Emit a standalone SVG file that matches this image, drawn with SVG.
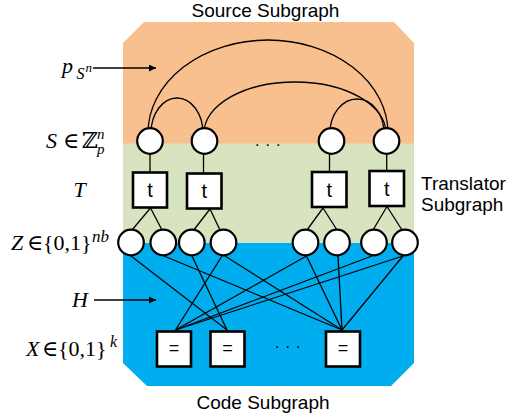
<svg xmlns="http://www.w3.org/2000/svg" width="511" height="419" viewBox="0 0 511 419">
  <style>
    .cap { font-family: "Liberation Sans", Arial, sans-serif; font-size: 19px; fill: #000; }
    .math { font-family: "Liberation Serif", "DejaVu Serif", serif; font-size: 22px; fill: #000; }
    .it { font-style: italic; }
    .var { fill: #fff; stroke: #000; stroke-width: 2.2; }
    .fac { fill: #fff; stroke: #000; stroke-width: 2.6; }
    .lbl { font-family: "Liberation Sans", Arial, sans-serif; fill: #000; text-anchor: middle; }
    .edge { fill: none; stroke: #000; stroke-width: 1.3; }
    .dots { font-family: "Liberation Sans", Arial, sans-serif; font-size: 16px; letter-spacing: 6px; fill: #000; }
  </style>
  <defs>
    <marker id="head" viewBox="0 0 10 10" refX="10" refY="5" markerWidth="8" markerHeight="7" markerUnits="userSpaceOnUse" orient="auto">
      <path d="M0,0 L10,5 L0,10 Z" fill="#000"/>
    </marker>
  </defs>

  <!-- subgraph regions -->
  <path d="M123,43 L144,22 L394,22 L414,43 L414,144 L123,144 Z" fill="#F8BF8F"/>
  <rect x="123" y="143.5" width="291" height="100" fill="#D8E4BF"/>
  <path d="M123,243 L414,243 L414,363 L391,386 L147,386 L123,363 Z" fill="#00AEEF"/>

  <!-- region captions -->
  <text class="cap" x="265.5" y="17" text-anchor="middle">Source Subgraph</text>
  <text class="cap" x="421" y="189.5">Translator</text>
  <text class="cap" x="421" y="210.5">Subgraph</text>
  <text class="cap" x="263" y="409" text-anchor="middle">Code Subgraph</text>

  <!-- row labels -->
  <text class="math"><tspan class="it" x="62" y="73">p</tspan><tspan class="it" x="76.5" y="79" font-size="16">S</tspan><tspan class="it" x="85.5" y="72" font-size="13">n</tspan></text>
  <text class="math"><tspan class="it" x="46" y="148">S</tspan><tspan x="63" y="148">∈</tspan><tspan x="82" y="148">ℤ</tspan><tspan class="it" x="97" y="139" font-size="15">n</tspan><tspan class="it" x="97" y="154" font-size="15">p</tspan></text>
  <text class="math it" x="73.5" y="197">T</text>
  <text class="math"><tspan class="it" x="11" y="250">Z</tspan><tspan x="27" y="250">∈</tspan><tspan x="43" y="250">{0,1}</tspan><tspan class="it" x="92" y="242" font-size="17">nb</tspan></text>
  <text class="math it" x="72" y="307">H</text>
  <text class="math"><tspan class="it" x="26" y="356">X</tspan><tspan x="42" y="356">∈</tspan><tspan x="58" y="356">{0,1}</tspan><tspan class="it" x="110" y="347" font-size="16">k</tspan></text>

  <!-- ellipses between nodes -->
  <text class="dots" x="255" y="146">...</text>
  <text class="dots" x="275" y="348">...</text>

  <!-- connectors -->
  <g id="connectors">
    <!-- pointers to the factors -->
    <line class="edge" x1="93" y1="68" x2="156" y2="68" marker-end="url(#head)"/>
    <line class="edge" x1="94" y1="300" x2="156" y2="300" marker-end="url(#head)"/>
    <!-- source factor arcs -->
    <path class="edge" d="M148,133 A120,93 0 0 1 388,133"/>
    <path class="edge" d="M151,133 A26,35 0 0 1 203,133"/>
    <path class="edge" d="M204,133 A91,51 0 0 1 386,133"/>
    <path class="edge" d="M330,133 A27,34 0 0 1 384,133"/>
    <!-- source to translator -->
    <line class="edge" x1="150" y1="154" x2="150" y2="172"/>
    <line class="edge" x1="203.5" y1="154" x2="203.5" y2="173"/>
    <line class="edge" x1="329.5" y1="154" x2="329.5" y2="172"/>
    <line class="edge" x1="386.7" y1="154" x2="386.7" y2="171"/>
    <!-- translator to bits -->
    <line class="edge" x1="150.5" y1="208" x2="132" y2="230"/>
    <line class="edge" x1="150.5" y1="208" x2="162" y2="230"/>
    <line class="edge" x1="210" y1="209" x2="193" y2="231"/>
    <line class="edge" x1="210" y1="209" x2="220" y2="230"/>
    <line class="edge" x1="323" y1="208" x2="307" y2="230"/>
    <line class="edge" x1="323" y1="208" x2="337" y2="230"/>
    <line class="edge" x1="387" y1="206.5" x2="373" y2="230"/>
    <line class="edge" x1="387" y1="206.5" x2="402" y2="230"/>
    <!-- parity checks H -->
    <line class="edge" x1="131" y1="256" x2="227" y2="330"/>
    <line class="edge" x1="164" y1="256" x2="342" y2="330"/>
    <line class="edge" x1="192" y1="256" x2="227" y2="330"/>
    <line class="edge" x1="222" y1="256" x2="175.5" y2="330"/>
    <line class="edge" x1="225" y1="256" x2="342" y2="330"/>
    <line class="edge" x1="306.5" y1="256" x2="175.5" y2="330"/>
    <line class="edge" x1="306.5" y1="256" x2="342" y2="330"/>
    <line class="edge" x1="338" y1="256" x2="342" y2="330"/>
    <line class="edge" x1="372" y1="256" x2="175.5" y2="330"/>
    <line class="edge" x1="403" y1="256" x2="175.5" y2="330"/>
    <line class="edge" x1="403" y1="256" x2="342" y2="330"/>
  </g>

  <!-- source variables S -->
  <g id="s1"><circle class="var" cx="150" cy="141" r="12.8"/></g>
  <g id="s2"><circle class="var" cx="204.5" cy="141" r="12.8"/></g>
  <g id="s3"><circle class="var" cx="331.5" cy="141" r="12.8"/></g>
  <g id="s4"><circle class="var" cx="386.5" cy="141" r="12.8"/></g>

  <!-- translator factors t -->
  <g id="t1"><rect class="fac" x="133" y="172.5" width="34" height="35"/><text class="lbl" x="150" y="197" font-size="20">t</text></g>
  <g id="t2"><rect class="fac" x="187" y="173.5" width="34.5" height="35"/><text class="lbl" x="204.3" y="198" font-size="20">t</text></g>
  <g id="t3"><rect class="fac" x="312" y="172" width="34.5" height="35"/><text class="lbl" x="329.2" y="196.5" font-size="20">t</text></g>
  <g id="t4"><rect class="fac" x="369.5" y="171" width="34.5" height="35"/><text class="lbl" x="386.7" y="195.5" font-size="20">t</text></g>

  <!-- code bits Z -->
  <g id="z1"><circle class="var" cx="131" cy="242.5" r="12.8"/></g>
  <g id="z2"><circle class="var" cx="163.3" cy="242.5" r="12.8"/></g>
  <g id="z3"><circle class="var" cx="191.8" cy="242.5" r="12.8"/></g>
  <g id="z4"><circle class="var" cx="223.5" cy="242.5" r="12.8"/></g>
  <g id="z5"><circle class="var" cx="305.5" cy="242.5" r="12.8"/></g>
  <g id="z6"><circle class="var" cx="337" cy="242.5" r="12.8"/></g>
  <g id="z7"><circle class="var" cx="374" cy="242.5" r="12.8"/></g>
  <g id="z8"><circle class="var" cx="405" cy="242.5" r="12.8"/></g>

  <!-- code factors X -->
  <g id="x1"><rect class="fac" x="157" y="331.5" width="34" height="35"/><text class="lbl" x="174" y="354" font-size="18">=</text></g>
  <g id="x2"><rect class="fac" x="210.5" y="331.5" width="34" height="35"/><text class="lbl" x="227.5" y="354" font-size="18">=</text></g>
  <g id="x3"><rect class="fac" x="326" y="331.5" width="34" height="35"/><text class="lbl" x="343" y="354" font-size="18">=</text></g>
</svg>
